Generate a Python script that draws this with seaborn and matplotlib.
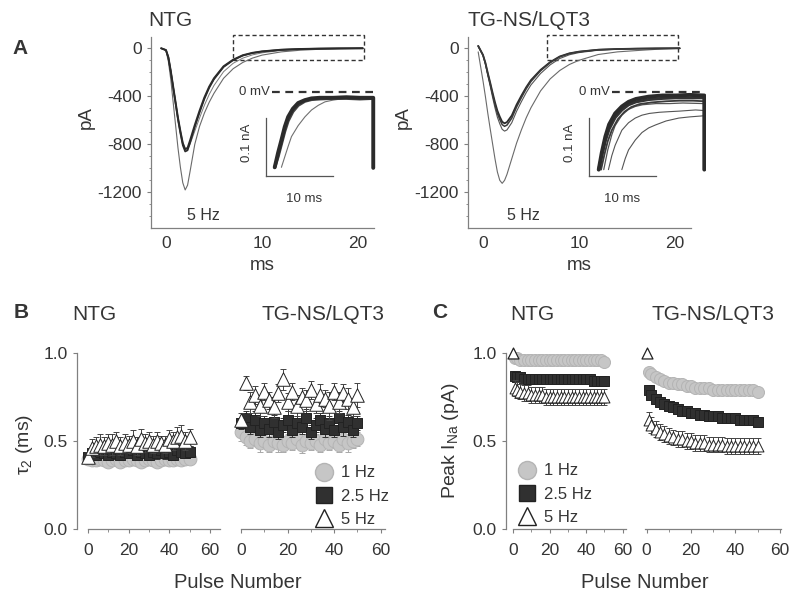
import seaborn as sns
import matplotlib.pyplot as plt
from matplotlib.patches import Rectangle
from matplotlib.lines import Line2D
from matplotlib.ticker import MultipleLocator

# ---- panel A: Na current traces at 5 Hz (pA vs ms)
trace_t = [-0.5, 0.0, 0.25, 0.5, 0.75, 1.0, 1.25, 1.5, 1.75, 2.0, 2.25, 2.5, 3.0, 3.5,
           4.0, 4.5, 5.0, 6.0, 7.0, 8.0, 9.0, 10.0, 12.0, 14.0, 16.0, 18.0, 20.5]
ntg_first = [0, -20, -110, -260, -450, -640, -830, -990, -1120, -1180, -1140, -1030, -800, -650,
             -540, -450, -375, -250, -170, -118, -82, -57, -30, -16, -8, -4, 0]
ntg_late1 = [0, -15, -75, -190, -320, -450, -580, -690, -790, -840, -830, -770, -640, -520,
             -410, -320, -250, -150, -95, -58, -38, -26, -12, -6, -3, -1, 0]
ntg_late2 = [0, -15, -78, -195, -330, -462, -595, -708, -808, -860, -850, -790, -655, -535,
             -422, -330, -258, -156, -99, -61, -40, -27, -13, -6, -3, -1, 0]
ntg_late3 = [0, -15, -70, -180, -310, -440, -570, -680, -780, -845, -845, -800, -690, -580,
             -475, -385, -310, -195, -125, -82, -55, -38, -18, -9, -4, -2, 0]
tg_first = [-30, -270, -400, -540, -670, -795, -920, -1030, -1100, -1125, -1100, -1050, -920, -790,
            -680, -580, -495, -355, -255, -185, -135, -100, -52, -30, -19, -9, 0]
tg_late1 = [20, -55, -120, -205, -285, -370, -450, -520, -570, -612, -625, -615, -560, -470,
            -395, -325, -265, -180, -115, -68, -42, -28, -12, -6, -3, -1, 0]
tg_late2 = [20, -57, -125, -213, -296, -385, -468, -541, -593, -636, -650, -640, -582, -489,
            -411, -338, -276, -187, -120, -71, -44, -29, -12, -6, -3, -1, 0]
tg_late3 = [15, -60, -132, -226, -314, -408, -496, -574, -629, -675, -690, -680, -620, -525,
            -445, -370, -305, -210, -138, -85, -54, -36, -16, -8, -4, -2, 0]

# insets: late current (nA vs ms)
ins_ntg_t = [1.3, 1.8, 2.3, 2.8, 3.3, 4.0, 4.8, 5.8, 6.8, 8.0, 10.0, 12.0, 14.0, 16.0, 16.0]
ins_ntg_a = [-0.130, -0.105, -0.083, -0.060, -0.043, -0.029, -0.019, -0.014, -0.011, -0.010,
             -0.010, -0.009, -0.010, -0.010, -0.131]
ins_ntg_b = [-0.130, -0.112, -0.090, -0.068, -0.050, -0.034, -0.023, -0.016, -0.013, -0.012,
             -0.011, -0.011, -0.012, -0.011, -0.011]
ins_ntg_slow_t = [2.3, 2.8, 3.3, 3.8, 4.8, 5.8, 6.8, 7.8, 8.8, 10.0, 11.8, 14.0, 16.0]
ins_ntg_slow = [-0.130, -0.112, -0.094, -0.077, -0.058, -0.043, -0.031, -0.023, -0.017, -0.014,
                -0.011, -0.011, -0.010]

ins_tg_t = [1.45, 1.9, 2.44, 3.0, 3.9, 4.9, 5.9, 7.0, 8.9, 11.0, 13.0, 15.0, 17.2, 17.2]
ins_tg_a = [-0.134, -0.105, -0.077, -0.056, -0.037, -0.025, -0.017, -0.012, -0.008, -0.006,
            -0.006, -0.005, -0.006, -0.134]
ins_tg_b = [-0.134, -0.110, -0.084, -0.064, -0.044, -0.031, -0.022, -0.017, -0.013, -0.011,
            -0.010, -0.010, -0.010, -0.010]
ins_tg_c_t = [1.8, 2.3, 2.8, 3.4, 4.3, 5.3, 6.3, 7.5, 9.3, 11.5, 13.5, 15.5, 17.2]
ins_tg_c = [-0.134, -0.108, -0.085, -0.066, -0.047, -0.034, -0.026, -0.021, -0.018, -0.016,
            -0.015, -0.015, -0.016]
ins_tg_d_t = [2.2, 2.8, 3.4, 3.9, 4.9, 5.9, 6.9, 8.0, 10.0, 12.0, 14.0, 17.2]
ins_tg_d = [-0.134, -0.100, -0.074, -0.058, -0.040, -0.030, -0.025, -0.022, -0.020, -0.020,
            -0.019, -0.020]
ins_tg_e_t = [2.9, 3.4, 3.9, 4.9, 5.9, 6.9, 7.9, 9.0, 10.5, 11.9, 13.5, 15.9, 17.2]
ins_tg_e = [-0.134, -0.110, -0.092, -0.066, -0.053, -0.045, -0.040, -0.037, -0.035, -0.034,
            -0.033, -0.031, -0.032]
ins_tg_f_t = [4.9, 5.4, 5.9, 6.9, 7.9, 8.9, 9.9, 11.5, 13.4, 15.0, 17.2]
ins_tg_f = [-0.134, -0.115, -0.100, -0.083, -0.070, -0.062, -0.057, -0.050, -0.045, -0.043, -0.041]

# ---- panel B: tau2 (ms) vs pulse number
b_pulses = [0, 2, 4, 6, 8, 10, 12, 14, 16, 18, 20, 22, 24, 26, 28, 30, 32, 34, 36, 38, 40, 42, 44, 46, 48, 50]
b_ntg_1 = [0.40, 0.39, 0.39, 0.40, 0.39, 0.38, 0.39, 0.40, 0.38, 0.39, 0.39, 0.40, 0.39,
           0.38, 0.39, 0.40, 0.39, 0.38, 0.39, 0.40, 0.39, 0.39, 0.40, 0.39, 0.40, 0.40]
b_ntg_1_err = [0.02, 0.02, 0.03, 0.02, 0.02, 0.02, 0.03, 0.02, 0.02, 0.02, 0.02, 0.03, 0.02,
               0.02, 0.02, 0.02, 0.03, 0.02, 0.02, 0.02, 0.02, 0.02, 0.03, 0.02, 0.02, 0.02]
b_ntg_25 = [0.41, 0.43, 0.42, 0.44, 0.43, 0.42, 0.44, 0.43, 0.42, 0.44, 0.43, 0.45, 0.42,
            0.44, 0.43, 0.42, 0.44, 0.43, 0.45, 0.43, 0.44, 0.42, 0.45, 0.44, 0.43, 0.44]
b_ntg_25_err = [0.02, 0.03, 0.02, 0.03, 0.02, 0.03, 0.02, 0.03, 0.02, 0.03, 0.02, 0.03, 0.02,
                0.03, 0.02, 0.03, 0.02, 0.03, 0.02, 0.03, 0.02, 0.03, 0.02, 0.03, 0.02, 0.03]
b_ntg_5 = [0.41, 0.46, 0.47, 0.48, 0.47, 0.49, 0.48, 0.50, 0.47, 0.49, 0.48, 0.50, 0.47,
           0.51, 0.49, 0.50, 0.48, 0.50, 0.49, 0.48, 0.51, 0.50, 0.52, 0.53, 0.50, 0.52]
b_ntg_5_err = [0.03, 0.05, 0.05, 0.06, 0.05, 0.05, 0.06, 0.05, 0.05, 0.05, 0.05, 0.06, 0.05,
               0.06, 0.05, 0.05, 0.05, 0.05, 0.04, 0.05, 0.05, 0.05, 0.06, 0.06, 0.05, 0.05]
b_tg_1 = [0.55, 0.52, 0.50, 0.51, 0.49, 0.50, 0.48, 0.50, 0.49, 0.48, 0.50, 0.49, 0.51,
          0.48, 0.50, 0.49, 0.50, 0.48, 0.51, 0.49, 0.50, 0.48, 0.51, 0.49, 0.50, 0.51]
b_tg_1_err = [0.05, 0.04, 0.04, 0.04, 0.05, 0.04, 0.04, 0.04, 0.05, 0.04, 0.04, 0.04, 0.04,
              0.05, 0.04, 0.04, 0.04, 0.04, 0.05, 0.04, 0.04, 0.04, 0.04, 0.05, 0.04, 0.04]
b_tg_25 = [0.60, 0.63, 0.58, 0.62, 0.56, 0.60, 0.57, 0.61, 0.55, 0.59, 0.62, 0.56, 0.60,
           0.58, 0.63, 0.55, 0.59, 0.62, 0.57, 0.60, 0.56, 0.63, 0.58, 0.61, 0.56, 0.60]
b_tg_25_err = [0.03, 0.04, 0.04, 0.05, 0.04, 0.04, 0.05, 0.04, 0.04, 0.04, 0.05, 0.04, 0.04,
               0.04, 0.05, 0.04, 0.04, 0.04, 0.05, 0.04, 0.04, 0.04, 0.05, 0.04, 0.04, 0.04]
b_tg_5 = [0.62, 0.83, 0.72, 0.76, 0.70, 0.78, 0.73, 0.69, 0.77, 0.85, 0.72, 0.78, 0.70,
          0.75, 0.73, 0.79, 0.71, 0.76, 0.74, 0.70, 0.78, 0.72, 0.77, 0.74, 0.69, 0.76]
b_tg_5_err = [0.04, 0.04, 0.06, 0.05, 0.06, 0.05, 0.05, 0.06, 0.05, 0.06, 0.05, 0.05, 0.06,
              0.05, 0.06, 0.05, 0.05, 0.06, 0.05, 0.08, 0.05, 0.06, 0.05, 0.06, 0.05, 0.07]

# ---- panel C: normalized peak INa vs pulse number
c_pulses = [0, 1, 2, 4, 6, 8, 10, 12, 14, 16, 18, 20, 22, 24, 26, 28, 30, 32, 34, 36, 38, 40,
            42, 44, 46, 48, 50]
c_ntg_1 = [1.00, 0.97, 0.97, 0.96, 0.96, 0.96, 0.96, 0.96, 0.96, 0.96, 0.96, 0.96, 0.96, 0.96,
           0.96, 0.96, 0.96, 0.96, 0.96, 0.96, 0.96, 0.96, 0.96, 0.96, 0.96, 0.96, 0.95]
c_ntg_25 = [1.00, 0.87, 0.86, 0.86, 0.85, 0.85, 0.85, 0.85, 0.85, 0.85, 0.85, 0.85, 0.85, 0.85,
            0.85, 0.85, 0.85, 0.85, 0.85, 0.85, 0.85, 0.85, 0.85, 0.84, 0.84, 0.84, 0.84]
c_ntg_5 = [1.00, 0.80, 0.79, 0.78, 0.77, 0.77, 0.76, 0.76, 0.76, 0.76, 0.75, 0.75, 0.75, 0.75,
           0.75, 0.75, 0.75, 0.75, 0.75, 0.75, 0.75, 0.75, 0.75, 0.75, 0.75, 0.75, 0.75]
c_tg_1 = [1.00, 0.89, 0.88, 0.86, 0.85, 0.84, 0.83, 0.83, 0.82, 0.82, 0.81, 0.81, 0.80, 0.80,
          0.80, 0.80, 0.79, 0.79, 0.79, 0.79, 0.79, 0.79, 0.79, 0.79, 0.79, 0.79, 0.78]
c_tg_25 = [1.00, 0.79, 0.76, 0.74, 0.72, 0.71, 0.70, 0.69, 0.68, 0.67, 0.67, 0.66, 0.66, 0.65,
           0.65, 0.64, 0.64, 0.64, 0.63, 0.63, 0.63, 0.63, 0.62, 0.62, 0.62, 0.62, 0.61]
c_tg_5 = [1.00, 0.62, 0.59, 0.57, 0.55, 0.54, 0.53, 0.52, 0.51, 0.51, 0.50, 0.50, 0.49, 0.49,
          0.49, 0.48, 0.48, 0.48, 0.48, 0.47, 0.47, 0.47, 0.47, 0.47, 0.47, 0.47, 0.47]
c_err_1 = 0.02
c_err_25 = 0.025
c_err_5 = 0.045

freq_labels = ["1 Hz", "2.5 Hz", "5 Hz"]

# ---------------------------------------------------------------- style
sns.set_style("ticks")
plt.rcParams["font.family"] = ["Liberation Sans", "DejaVu Sans"]
plt.rcParams["mathtext.default"] = "regular"
plt.rcParams["axes.unicode_minus"] = False
TXT = "#353535"
AX = "#808080"

fig = plt.figure(figsize=(8, 6.02), dpi=100)


def px_axes(x0, y0, x1, y1):
    return fig.add_axes([x0 / 800, 1 - y1 / 602, (x1 - x0) / 800, (y1 - y0) / 602])


def style_axes(ax, fs=12.5):
    sns.despine(ax=ax)
    for s in ["left", "bottom"]:
        ax.spines[s].set_color(AX)
        ax.spines[s].set_linewidth(0.9)
    ax.tick_params(colors=AX, labelcolor=TXT, labelsize=fs, length=3, width=0.8)
    ax.tick_params(which="minor", colors=AX, length=1.8, width=0.6)
    ax.set_facecolor("none")


def trace(ax, t, y, color, lw):
    sns.lineplot(x=t, y=y, estimator=None, sort=False, color=color, lw=lw, ax=ax, legend=False)


# ---------------------------------------------------------------- panel A
a_axes = [px_axes(151, 37, 374, 228), px_axes(468, 37, 691, 228)]
a_sets = [
    [(ntg_first, "#6a6a6a", 0.8), (ntg_late3, "#7a7a7a", 0.7),
     (ntg_late1, "#2b2b2b", 1.4), (ntg_late2, "#2b2b2b", 1.2)],
    [(tg_first, "#6a6a6a", 0.8), (tg_late3, "#555555", 0.8),
     (tg_late1, "#2b2b2b", 1.3), (tg_late2, "#3a3a3a", 1.1)],
]
boxes = [(7.0, 20.6), (6.7, 20.3)]
hz_x = [2.2, 2.5]
for ax, traces, box, hx in zip(a_axes, a_sets, boxes, hz_x):
    for y, c, lw in traces:
        trace(ax, trace_t, y, c, lw)
    style_axes(ax)
    ax.set_xlim(-1.56, 21.67)
    ax.set_ylim(-1497, 94)
    ax.set_xticks([0, 10, 20])
    ax.set_yticks([0, -400, -800, -1200])
    ax.yaxis.set_minor_locator(MultipleLocator(100))
    ax.tick_params(axis="x", length=0, pad=6)
    ax.set_xlabel("ms", fontsize=13.5, color=TXT)
    ax.xaxis.set_label_coords(0.5, -0.15)
    ax.set_ylabel("pA", fontsize=13.5, color=TXT)
    ax.yaxis.set_label_coords(-0.25, 0.58)
    ax.add_patch(Rectangle((box[0], -97), box[1] - box[0], 208, fill=False, ls=(0, (3, 2)),
                           lw=1.0, ec="#333333", clip_on=False))
    ax.text(hx, -1390, "5 Hz", fontsize=11.5, color=TXT, va="center")

ins_axes = [px_axes(266, 89.1, 383.3, 176), px_axes(589, 89.1, 706.3, 176)]
ins_sets = [
    [(ins_ntg_slow_t, ins_ntg_slow, "#707070", 0.8), (ins_ntg_t, ins_ntg_b, "#444444", 2.2),
     (ins_ntg_t, ins_ntg_a, "#2b2b2b", 2.8)],
    [(ins_tg_f_t, ins_tg_f, "#555555", 0.8), (ins_tg_e_t, ins_tg_e, "#555555", 0.8),
     (ins_tg_d_t, ins_tg_d, "#555555", 0.9), (ins_tg_c_t, ins_tg_c, "#3a3a3a", 1.3),
     (ins_tg_t, ins_tg_b, "#333333", 2.2), (ins_tg_t, ins_tg_a, "#2b2b2b", 2.8)],
]
mv_pos = [(0.6, 0.9, 16.0), (3.1, 3.4, 17.2)]
tenms_x = [0.324, 0.28]
for ax, traces, mv, tx in zip(ins_axes, ins_sets, mv_pos, tenms_x):
    for t, y, c, lw in traces:
        trace(ax, t, y, c, lw)
    sns.despine(ax=ax)
    ax.set_facecolor("none")
    ax.set_xlim(0, 17.5)
    ax.set_ylim(-0.145, 0.005)
    ax.set_xticks([])
    ax.set_yticks([])
    ax.spines["left"].set_bounds(-0.145, -0.045)
    ax.spines["bottom"].set_bounds(0, 10)
    for s in ["left", "bottom"]:
        ax.spines[s].set_color("#555555")
        ax.spines[s].set_linewidth(0.9)
    ax.plot([mv[1], mv[2]], [0, 0], ls=(0, (3.5, 2.5)), lw=1.6, color="#333333", clip_on=False)
    ax.text(mv[0], 0, "0 mV", fontsize=9.5, color=TXT, ha="right", va="center")
    ax.set_ylabel("0.1 nA", fontsize=9.5, color=TXT)
    ax.yaxis.set_label_coords(-0.115, 0.38)
    ax.set_xlabel("10 ms", fontsize=9.5, color=TXT)
    ax.xaxis.set_label_coords(tx, -0.19)

# ---------------------------------------------------------------- panels B, C
circ = dict(marker="o", color="#c6c6c6", edgecolor="#b4b4b4")
sq = dict(marker="s", color="#303030", edgecolor="#222222")
tri = dict(marker="^", color="white", edgecolor="#222222")


def series(ax, x, y, err, style, size, ecolor, z):
    ax.errorbar(x, y, yerr=err, fmt="none", ecolor=ecolor, elinewidth=0.7, capsize=2.2,
                capthick=0.7, zorder=z)
    sns.scatterplot(x=x, y=y, s=size, linewidth=0.7, ax=ax, zorder=z + 0.5, clip_on=False,
                    legend=False, **style)


b_axes = [px_axes(77, 352.7, 222, 529.3), px_axes(236, 352.7, 390, 529.3)]
b_data = [
    [(b_ntg_1, b_ntg_1_err), (b_ntg_25, b_ntg_25_err), (b_ntg_5, b_ntg_5_err)],
    [(b_tg_1, b_tg_1_err), (b_tg_25, b_tg_25_err), (b_tg_5, b_tg_5_err)],
]
b_xlims = [(-5.4, 66), (-2.15, 64)]
b_bounds = [(0, 65), (0, 62)]
for ax, dat, xl, bd in zip(b_axes, b_data, b_xlims, b_bounds):
    series(ax, b_pulses, dat[0][0], dat[0][1], circ, 85, "#a8a8a8", 2)
    series(ax, b_pulses, dat[1][0], dat[1][1], sq, 60, "#333333", 4)
    series(ax, b_pulses, dat[2][0], dat[2][1], tri, 95, "#444444", 6)
    style_axes(ax)
    ax.set_xlim(*xl)
    ax.set_ylim(0, 1.0)
    ax.spines["bottom"].set_bounds(*bd)
    ax.set_xticks([0, 20, 40, 60])
    ax.xaxis.set_minor_locator(MultipleLocator(10))
    ax.set_yticks([0.0, 0.5, 1.0])
    ax.set_yticklabels(["0.0", "0.5", "1.0"])
    ax.tick_params(axis="x", pad=7)
    ax.set_xlabel("")
    ax.set_ylabel("")

c_axes = [px_axes(506, 352.7, 627, 529.3), px_axes(640, 352.7, 782, 529.3)]
c_data = [[c_ntg_1, c_ntg_25, c_ntg_5], [c_tg_1, c_tg_25, c_tg_5]]
c_xlims = [(-3.8, 62.3), (-3.0, 61.0)]
c_bounds = [(0, 62), (-0.8, 60.5)]
for ax, dat, xl, bd in zip(c_axes, c_data, c_xlims, c_bounds):
    series(ax, c_pulses[1:], dat[0][1:], c_err_1, circ, 75, "#a0a0a0", 2)
    series(ax, c_pulses[1:], dat[1][1:], c_err_25, sq, 42, "#333333", 4)
    series(ax, c_pulses[1:], dat[2][1:], c_err_5, tri, 62, "#444444", 6)
    sns.scatterplot(x=c_pulses[:1], y=dat[2][:1], s=62, linewidth=0.9, ax=ax, zorder=7,
                    clip_on=False, legend=False, **tri)
    style_axes(ax)
    ax.set_xlim(*xl)
    ax.set_ylim(0, 1.0)
    ax.spines["bottom"].set_bounds(*bd)
    ax.set_xticks([0, 20, 40, 60])
    ax.xaxis.set_minor_locator(MultipleLocator(10))
    ax.set_yticks([0.0, 0.5, 1.0])
    ax.set_yticklabels(["0.0", "0.5", "1.0"])
    ax.tick_params(axis="x", pad=7)
    ax.set_xlabel("")
    ax.set_ylabel("")

for ax in [b_axes[1], c_axes[1]]:
    ax.spines["left"].set_visible(False)
    ax.tick_params(axis="y", left=False, labelleft=False)

b_axes[0].set_ylabel(r"τ$_2$ (ms)", fontsize=14, color=TXT)
b_axes[0].yaxis.set_label_coords(-0.29, 0.48)
c_axes[0].set_ylabel(r"Peak I$_{Na}$ (pA)", fontsize=14, color=TXT)
c_axes[0].yaxis.set_label_coords(-0.37, 0.5)

handles = [
    Line2D([], [], ls="none", marker="o", ms=13, mfc="#c6c6c6", mec="#b4b4b4"),
    Line2D([], [], ls="none", marker="s", ms=12, mfc="#303030", mec="#222222"),
    Line2D([], [], ls="none", marker="^", ms=13, mfc="white", mec="#222222"),
]
for ax, anchor in [(b_axes[1], (306 / 800, 1 - 457 / 602)), (c_axes[0], (509 / 800, 1 - 455 / 602))]:
    ax.legend(handles, freq_labels, loc="upper left", bbox_to_anchor=anchor,
              bbox_transform=fig.transFigure, frameon=False, fontsize=12, borderpad=0,
              handlelength=1.2, handletextpad=0.4, labelspacing=0.5, labelcolor=TXT)

# ---------------------------------------------------------------- labels
fig.text(12 / 800, 1 - 48 / 602, "A", fontsize=15, fontweight="bold", color=TXT, va="center")
fig.text(14 / 800, 1 - 313 / 602, "B", fontsize=15, fontweight="bold", color=TXT, va="center")
fig.text(432 / 800, 1 - 313 / 602, "C", fontsize=15, fontweight="bold", color=TXT, va="center")
titles = [(148, 20, "NTG"), (467, 20, "TG-NS/LQT3"), (72, 315, "NTG"), (262, 315, "TG-NS/LQT3"),
          (510, 315, "NTG"), (652, 315, "TG-NS/LQT3")]
for x, y, s in titles:
    fig.text(x / 800, 1 - y / 602, s, fontsize=15, color=TXT, va="center")
fig.text(238 / 800, 1 - 582 / 602, "Pulse Number", fontsize=14.5, color=TXT, ha="center", va="center")
fig.text(645 / 800, 1 - 582 / 602, "Pulse Number", fontsize=14.5, color=TXT, ha="center", va="center")

fig.savefig("out.png", dpi=100)
